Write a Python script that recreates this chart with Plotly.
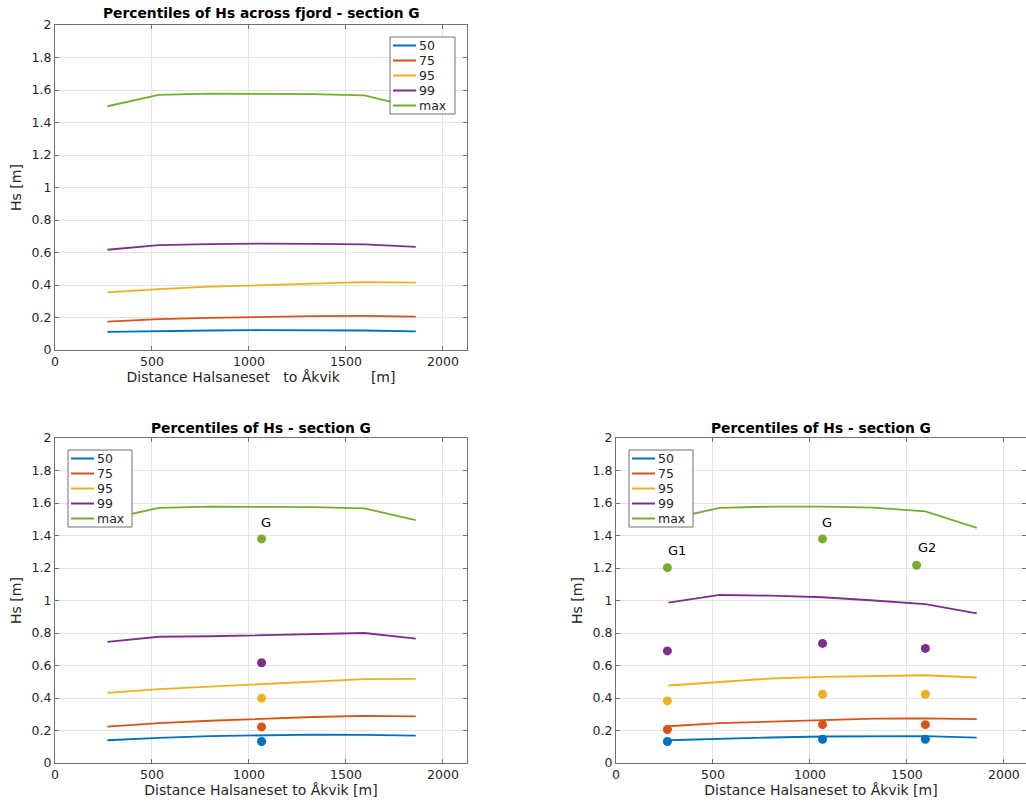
import plotly.graph_objects as go

# ---------------- data ----------------
dist = [270, 535, 800, 1065, 1330, 1595, 1860]
series_names = ["50", "75", "95", "99", "max"]
colors = ["#0072BD", "#D95319", "#EDB120", "#7E2F8E", "#77AC30"]

# top-left: across fjord
top_50 = [0.112, 0.118, 0.120, 0.122, 0.122, 0.120, 0.115]
top_75 = [0.175, 0.190, 0.198, 0.205, 0.208, 0.210, 0.205]
top_95 = [0.355, 0.375, 0.390, 0.400, 0.410, 0.418, 0.415]
top_99 = [0.617, 0.645, 0.652, 0.655, 0.653, 0.650, 0.635]
top_max = [1.500, 1.570, 1.578, 1.578, 1.575, 1.567, 1.490]

# bottom-left
bl_50 = [0.140, 0.155, 0.165, 0.172, 0.175, 0.173, 0.168]
bl_75 = [0.224, 0.245, 0.260, 0.272, 0.283, 0.290, 0.287]
bl_95 = [0.432, 0.455, 0.470, 0.485, 0.500, 0.516, 0.518]
bl_99 = [0.746, 0.777, 0.780, 0.787, 0.795, 0.800, 0.765]
bl_max = [1.500, 1.570, 1.578, 1.578, 1.575, 1.567, 1.495]
g_x = [1065]
g_vals = [0.132, 0.222, 0.399, 0.617, 1.379]
g_label = ["G"]
g_label_x = [1062]
g_label_y = [1.475]

# bottom-right
br_50 = [0.140, 0.150, 0.157, 0.163, 0.165, 0.165, 0.156]
br_75 = [0.226, 0.245, 0.255, 0.265, 0.273, 0.275, 0.270]
br_95 = [0.477, 0.500, 0.520, 0.530, 0.535, 0.540, 0.526]
br_99 = [0.987, 1.034, 1.030, 1.020, 1.000, 0.978, 0.921]
br_max = [1.500, 1.570, 1.578, 1.578, 1.572, 1.548, 1.447]
pt_x = [265, 1065, 1595]
pt_x_max = [265, 1065, 1550]
pts_50 = [0.132, 0.146, 0.146]
pts_75 = [0.206, 0.236, 0.236]
pts_95 = [0.382, 0.423, 0.423]
pts_99 = [0.690, 0.736, 0.705]
pts_max = [1.202, 1.379, 1.217]
pt_labels = ["G1", "G", "G2"]
pt_label_x = [268, 1062, 1557]
pt_label_y = [1.30, 1.475, 1.316]

y_ticks = [0, 0.2, 0.4, 0.6, 0.8, 1, 1.2, 1.4, 1.6, 1.8, 2]
y_ticktext = ["0", "0.2", "0.4", "0.6", "0.8", "1", "1.2", "1.4", "1.6", "1.8", "2"]
x_ticks = [0, 500, 1000, 1500, 2000]

FONT = "DejaVu Sans"
TXT = "#262626"
W, H = 1026, 805

fig = go.Figure()

def add_lines(series, xa, ya):
    for name, col, vals in zip(series_names, colors, series):
        fig.add_trace(go.Scatter(x=dist, y=vals, mode="lines", name=name, showlegend=False,
                                 line=dict(color=col, width=1.8),
                                 xaxis=xa, yaxis=ya))

add_lines([top_50, top_75, top_95, top_99, top_max], "x", "y")
add_lines([bl_50, bl_75, bl_95, bl_99, bl_max], "x2", "y2")
add_lines([br_50, br_75, br_95, br_99, br_max], "x3", "y3")

# bottom-left G points
for col, v in zip(colors, g_vals):
    fig.add_trace(go.Scatter(x=g_x, y=[v], mode="markers", showlegend=False,
                             marker=dict(color=col, size=9), xaxis="x2", yaxis="y2"))
fig.add_trace(go.Scatter(x=g_label_x, y=g_label_y, mode="text", text=g_label,
                         textposition="middle right", showlegend=False,
                         textfont=dict(family=FONT, size=13, color="black"),
                         xaxis="x2", yaxis="y2"))

# bottom-right points
for col, vals in zip(colors, [pts_50, pts_75, pts_95, pts_99]):
    fig.add_trace(go.Scatter(x=pt_x, y=vals, mode="markers", showlegend=False,
                             marker=dict(color=col, size=9), xaxis="x3", yaxis="y3"))
fig.add_trace(go.Scatter(x=pt_x_max, y=pts_max, mode="markers", showlegend=False,
                         marker=dict(color=colors[4], size=9), xaxis="x3", yaxis="y3"))
fig.add_trace(go.Scatter(x=pt_label_x, y=pt_label_y, mode="text", text=pt_labels,
                         textposition="middle right", showlegend=False,
                         textfont=dict(family=FONT, size=13, color="black"),
                         xaxis="x3", yaxis="y3"))

def px_x(p):
    return p / W

def px_y(p):
    return 1 - p / H

axis_common = dict(showline=True, mirror="ticks", linecolor="#707070", linewidth=1,
                   ticks="inside", ticklen=4, tickcolor="#707070",
                   showgrid=True, gridcolor="#e3e3e3", gridwidth=1, zeroline=False,
                   tickfont=dict(family=FONT, size=12.5, color=TXT))

def xaxis(dom, rng, title, anchor):
    return dict(axis_common, domain=dom, range=rng, tickvals=x_ticks, anchor=anchor,
                title=dict(text=title, standoff=2, font=dict(family=FONT, size=14, color=TXT)))

def yaxis(dom, anchor):
    return dict(axis_common, domain=dom, range=[0, 2], tickvals=y_ticks, ticktext=y_ticktext,
                anchor=anchor,
                title=dict(text="Hs [m]", standoff=6, font=dict(family=FONT, size=14, color=TXT)))

xl_top = "Distance Halsaneset\u00a0\u00a0\u00a0to Åkvik\u00a0\u00a0\u00a0\u00a0\u00a0\u00a0\u00a0[m]"
xl_bot = "Distance Halsaneset to Åkvik [m]"

shapes = []
annotations = [
    dict(text="<b>Percentiles of Hs across fjord - section G</b>", xref="x domain", yref="paper",
         x=0.5, y=px_y(13), xanchor="center", yanchor="middle", showarrow=False,
         font=dict(family=FONT, size=13.8, color="black")),
    dict(text="<b>Percentiles of Hs - section G</b>", xref="x2 domain", yref="paper",
         x=0.5, y=px_y(428), xanchor="center", yanchor="middle", showarrow=False,
         font=dict(family=FONT, size=13.8, color="black")),
    dict(text="<b>Percentiles of Hs - section G</b>", xref="x3 domain", yref="paper",
         x=0.5, y=px_y(428), xanchor="center", yanchor="middle", showarrow=False,
         font=dict(family=FONT, size=13.8, color="black")),
]

def add_legend(left, top, width=65, height=77, row0=8.5, step=15):
    # legend box, in page pixels converted to paper fractions
    shapes.append(dict(type="rect", xref="paper", yref="paper",
                       x0=px_x(left), x1=px_x(left + width), y0=px_y(top + height), y1=px_y(top),
                       line=dict(color="#707070", width=1), fillcolor="white", layer="above"))
    for i, (name, col) in enumerate(zip(series_names, colors)):
        yy = top + row0 + step * i
        shapes.append(dict(type="line", xref="paper", yref="paper",
                           x0=px_x(left + 3), x1=px_x(left + 26), y0=px_y(yy), y1=px_y(yy),
                           line=dict(color=col, width=2), layer="above"))
        annotations.append(dict(text=name, xref="paper", yref="paper", x=px_x(left + 27), y=px_y(yy),
                                xanchor="left", yanchor="middle", showarrow=False,
                                font=dict(family=FONT, size=12.5, color=TXT)))

add_legend(390, 37)
add_legend(68, 450, width=64)
add_legend(629, 450, width=64)

fig.update_layout(
    width=W, height=H,
    margin=dict(l=0, r=0, t=0, b=0, pad=0, autoexpand=False),
    paper_bgcolor="white", plot_bgcolor="white",
    showlegend=False,
    xaxis=xaxis([px_x(55), px_x(467)], [0, 2124], xl_top, "y"),
    yaxis=yaxis([px_y(350), px_y(25)], "x"),
    xaxis2=xaxis([px_x(55), px_x(467)], [0, 2124], xl_bot, "y2"),
    yaxis2=yaxis([px_y(763), px_y(438)], "x2"),
    xaxis3=xaxis([px_x(616), 1.0], [0, 2114], xl_bot, "y3"),
    yaxis3=yaxis([px_y(763), px_y(438)], "x3"),
    shapes=shapes,
    annotations=annotations,
)

fig.write_html("out.html")
